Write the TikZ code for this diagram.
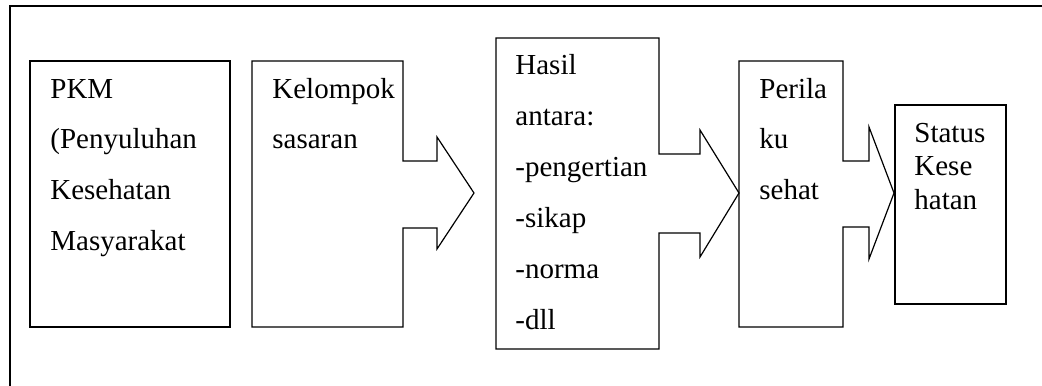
\documentclass[tikz,border=0pt]{standalone}
\usepackage{fontspec}
\setmainfont{Liberation Serif}
% left-aligned lines stacked from the baseline of the first line
\newcommand\linestack[1]{\vtop{\halign{##\hfil\cr#1\crcr}}}
\begin{document}
\begin{tikzpicture}[x=0.5pt,y=-0.5pt,
  outline/.style={draw,line width=0.6pt,line join=miter},
  frameline/.style={draw,line width=0.7pt},
  boxtext/.style={anchor=base west,inner sep=0pt,
    font=\fontsize{14.5}{25.4}\selectfont},
  tighttext/.style={anchor=base west,inner sep=0pt,
    font=\fontsize{14.5}{16.8}\selectfont}]
\useasboundingbox (0,0) rectangle (1042,385);

% open frame: top and left edges only
\draw[frameline] (1046,6) -- (10,6) -- (10,389);

% PKM box
\draw[outline] (30,61) rectangle (230,327);
\node[boxtext] (pkm) at (50,98)
  {\linestack{PKM\cr(Penyuluhan\cr Kesehatan\cr Masyarakat}};

% target group box with block arrow
\draw[outline] (252,61) -- (403,61) -- (403,161) -- (437,161) -- (437,137)
  -- (474,193) -- (437,249) -- (437,228) -- (403,228) -- (403,327)
  -- (252,327) -- cycle;
\node[boxtext] (sasaran) at (272,98) {\linestack{Kelompok\cr sasaran}};

% intermediate results box with block arrow
\draw[outline] (496,38) -- (659,38) -- (659,154) -- (700,154) -- (700,130)
  -- (739,193) -- (700,257) -- (700,233) -- (659,233) -- (659,349)
  -- (496,349) -- cycle;
\node[boxtext] (hasil) at (515,75)
  {\linestack{Hasil\cr antara:\cr-pengertian\cr-sikap\cr-norma\cr-dll}};

% healthy behaviour box with block arrow
\draw[outline] (739,61) -- (843,61) -- (843,161) -- (869,161) -- (869,127)
  -- (894,193) -- (869,259) -- (869,227) -- (843,227) -- (843,327)
  -- (739,327) -- cycle;
\node[boxtext] (perilaku) at (759,98) {\linestack{Perila\cr ku\cr sehat}};

% health status box
\draw[outline] (895,105) rectangle (1006,304);
\node[tighttext] (status) at (914,142) {\linestack{Status\cr Kese\cr hatan}};
\end{tikzpicture}
\end{document}
